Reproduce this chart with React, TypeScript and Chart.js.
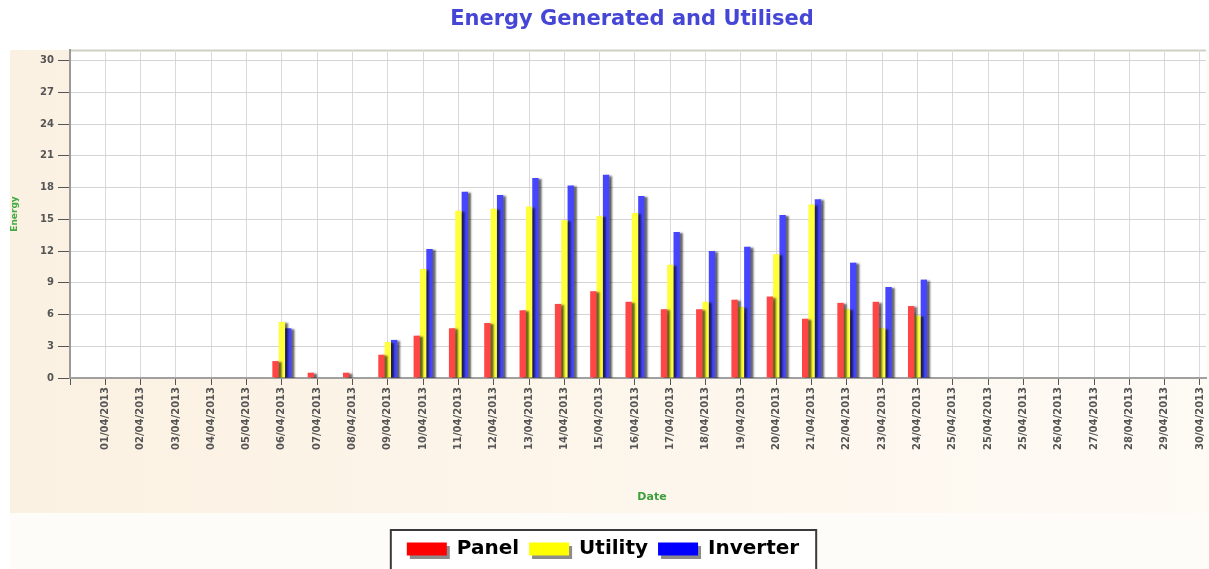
import React, { useEffect, useRef } from 'react';
import { Chart, registerables } from 'chart.js';

Chart.register(...registerables);

const dates = [
  '01/04/2013', '02/04/2013', '03/04/2013', '04/04/2013', '05/04/2013', '06/04/2013',
  '07/04/2013', '08/04/2013', '09/04/2013', '10/04/2013', '11/04/2013', '12/04/2013',
  '13/04/2013', '14/04/2013', '15/04/2013', '16/04/2013', '17/04/2013', '18/04/2013',
  '19/04/2013', '20/04/2013', '21/04/2013', '22/04/2013', '23/04/2013', '24/04/2013',
  '25/04/2013', '25/04/2013', '25/04/2013', '26/04/2013', '27/04/2013', '28/04/2013',
  '29/04/2013', '30/04/2013',
];

const panel = [
  0, 0, 0, 0, 0, 1.6, 0.5, 0.5, 2.2, 4.0, 4.7, 5.2, 6.4, 7.0, 8.2, 7.2,
  6.5, 6.5, 7.4, 7.7, 5.6, 7.1, 7.2, 6.8, 0, 0, 0, 0, 0, 0, 0, 0,
];
const utility = [
  0, 0, 0, 0, 0, 5.3, 0, 0, 3.4, 10.3, 15.8, 16.0, 16.2, 14.9, 15.3, 15.6,
  10.7, 7.2, 6.7, 11.7, 16.4, 6.5, 4.7, 5.9, 0, 0, 0, 0, 0, 0, 0, 0,
];
const inverter = [
  0, 0, 0, 0, 0, 4.7, 0, 0, 3.6, 12.2, 17.6, 17.3, 18.9, 18.2, 19.2, 17.2,
  13.8, 12.0, 12.4, 15.4, 16.9, 10.9, 8.6, 9.3, 0, 0, 0, 0, 0, 0, 0, 0,
];

const seriesNames = ['Panel', 'Utility', 'Inverter'];
const barColors = ['#FF4646', '#FFFF3A', '#4646FF'];
const swatchColors = ['#FF0000', '#FFFF00', '#0000FF'];
const chartTitle = 'Energy Generated and Utilised';
const xTitle = 'Date';
const yTitle = 'Energy';
const yStep = 3;
const yMax = 31;
const xMax = 32.17;

const FONT = 'DejaVu Sans';

const decorPlugin = {
  id: 'decor',
  beforeDraw(chart: any) {
    const { ctx, width, height, chartArea } = chart;
    ctx.save();
    ctx.fillStyle = '#FFFFFF';
    ctx.fillRect(0, 0, width, height);
    ctx.fillStyle = '#FEFCF9';
    ctx.fillRect(10, 513, width - 10, height - 513);
    const g = ctx.createLinearGradient(10, 0, width, 0);
    g.addColorStop(0, '#FBF1E2');
    g.addColorStop(1, '#FEFAF4');
    ctx.fillStyle = g;
    ctx.fillRect(10, 50, width - 10, 463);
    ctx.fillStyle = '#FFFFFF';
    ctx.fillRect(chartArea.left, chartArea.top, chartArea.right - chartArea.left, chartArea.bottom - chartArea.top);
    ctx.strokeStyle = '#CFCFC6';
    ctx.lineWidth = 2;
    ctx.beginPath();
    ctx.moveTo(chartArea.left, chartArea.top + 0.5);
    ctx.lineTo(chartArea.right, chartArea.top + 0.5);
    ctx.stroke();
    // legend frame and swatch shadows
    const legend = chart.legend;
    if (legend && legend.legendHitBoxes && legend.legendHitBoxes.length) {
      const boxes = legend.legendHitBoxes;
      const l = Math.min(...boxes.map((b: any) => b.left)) - 16;
      const r = Math.max(...boxes.map((b: any) => b.left + b.width)) + 17;
      const t = boxes[0].top - 9;
      ctx.fillStyle = '#FFFFFF';
      ctx.fillRect(l, t, r - l, height - t + 10);
      ctx.strokeStyle = '#3A3A3A';
      ctx.lineWidth = 2;
      ctx.strokeRect(l, t, r - l, height - t + 10);
      ctx.fillStyle = 'rgba(0,0,0,0.45)';
      boxes.forEach((b: any) => {
        ctx.fillRect(b.left + 3, b.top + 4 + 3, 40, 13);
      });
    }
    ctx.restore();
  },
  beforeDatasetsDraw(chart: any) {
    const ctx = chart.ctx;
    ctx.save();
    ctx.shadowColor = 'rgba(0,0,0,0.6)';
    ctx.shadowOffsetX = 3;
    ctx.shadowOffsetY = 1;
    ctx.shadowBlur = 2;
  },
  afterDatasetsDraw(chart: any) {
    chart.ctx.restore();
  },
  afterDraw(chart: any) {
    const ctx = chart.ctx;
    ctx.save();
    ctx.textAlign = 'center';
    ctx.textBaseline = 'middle';
    ctx.fillStyle = '#4646D6';
    ctx.font = `bold 21px "${FONT}"`;
    ctx.fillText(chartTitle, 632, 20);
    ctx.fillStyle = '#3D9E3D';
    ctx.font = `bold 11px "${FONT}"`;
    ctx.fillText(xTitle, 652, 497);
    ctx.restore();
  },
};

export default function App() {
  const canvasRef = useRef<HTMLCanvasElement | null>(null);

  useEffect(() => {
    document.body.style.margin = '0';
    const canvas = canvasRef.current;
    if (!canvas) return;
    const series = [panel, utility, inverter];
    const chart = new Chart(canvas, {
      type: 'bar',
      data: {
        datasets: series.map((vals, k) => ({
          label: seriesNames[k],
          data: vals.map((v, i) => ({ x: i + 1, y: v })),
          backgroundColor: barColors[k],
          borderWidth: 0,
          categoryPercentage: 0.54,
          barPercentage: 1.0,
        })),
      },
      options: {
        responsive: false,
        animation: false,
        devicePixelRatio: 1,
        layout: { padding: { left: 0, right: 3, top: 50, bottom: 0 } },
        plugins: {
          title: { display: false },
          legend: {
            position: 'bottom',
            labels: {
              boxWidth: 40,
              boxHeight: 13,
              padding: 10,
              color: '#000000',
              font: { family: FONT, size: 20, weight: 'bold' },
              generateLabels: (chart: any) =>
                chart.data.datasets.map((ds: any, i: number) => ({
                  text: ds.label,
                  fillStyle: swatchColors[i],
                  strokeStyle: swatchColors[i],
                  lineWidth: 0,
                  hidden: false,
                  datasetIndex: i,
                })),
            },
          },
          tooltip: { enabled: false },
        },
        scales: {
          x: {
            type: 'linear',
            min: 0,
            max: xMax,
            offset: false,
            ticks: {
              stepSize: 1,
              autoSkip: false,
              includeBounds: false,
              minRotation: 90,
              maxRotation: 90,
              padding: 2,
              color: '#555555',
              font: { family: FONT, size: 10, weight: 'bold' },
              callback: (v: any) => {
                const n = Number(v);
                return n >= 1 && n <= dates.length ? dates[n - 1] : '';
              },
            },
            grid: { offset: false, color: '#D9D9D9', tickColor: '#555555', tickLength: 7, lineWidth: 1 },
            border: { color: '#A0A0A0', width: 2 },
            title: { display: false },
            afterFit: (s: any) => {
              s.height = 151;
              s.paddingLeft = 0;
              s.paddingRight = 0;
            },
          },
          y: {
            min: 0,
            max: yMax,
            ticks: {
              stepSize: yStep,
              includeBounds: false,
              padding: 4,
              color: '#555555',
              font: { family: FONT, size: 10, weight: 'bold' },
            },
            grid: { color: '#D4D4D4', tickColor: '#555555', tickLength: 12, lineWidth: 1 },
            border: { color: '#9A9A9A', width: 2 },
            title: {
              display: true,
              text: yTitle,
              color: '#45AA45',
              font: { family: FONT, size: 9, weight: 'bold' },
              padding: { top: 9, bottom: 0 },
            },
            afterFit: (s: any) => {
              s.width = 70;
              s.paddingTop = 0;
              s.paddingBottom = 0;
            },
          },
        },
      },
      plugins: [decorPlugin],
    } as any);
    return () => chart.destroy();
  }, []);

  return (
    <div style={{ width: 1209, height: 569 }}>
      <canvas ref={canvasRef} width={1209} height={569} />
    </div>
  );
}
